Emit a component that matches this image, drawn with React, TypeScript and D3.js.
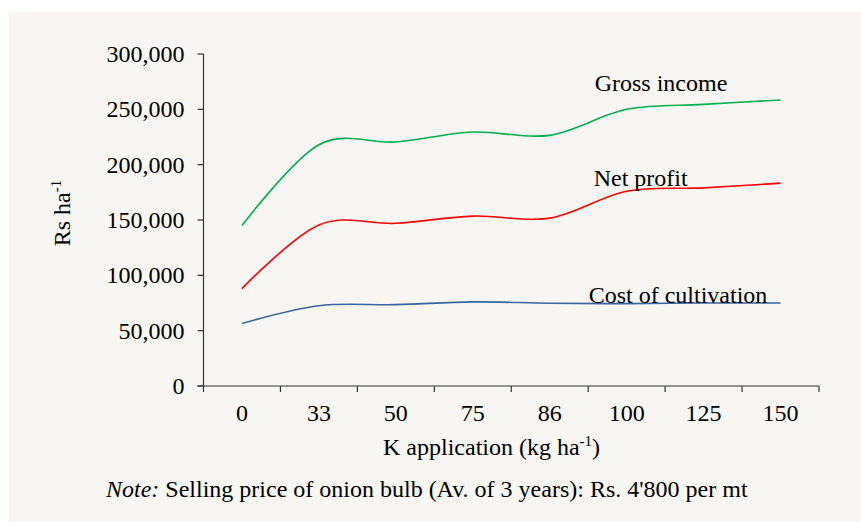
import React from "react";
import * as d3 from "d3";

// K application levels (kg ha-1)
const categories = ["0", "33", "50", "75", "86", "100", "125", "150"];

// Rs ha-1
const grossIncome = [145000, 218000, 220500, 229500, 226500, 250000, 254500, 258500];
const netProfit = [88000, 145500, 147000, 153500, 151700, 176000, 179000, 183300];
const costOfCultivation = [56500, 72500, 73500, 76000, 74800, 74400, 75000, 75000];

const yTicks = [0, 50000, 100000, 150000, 200000, 250000, 300000];

const seriesList = [
  { name: "Gross income", values: grossIncome, color: "#00b050", labelAt: 5, dx: -32, dy: -12 },
  { name: "Net profit", values: netProfit, color: "#ff0000", labelAt: 5, dx: -33, dy: 1 },
  { name: "Cost of cultivation", values: costOfCultivation, color: "#3a66a0", labelAt: 5, dx: -38, dy: 5 },
];

const W = 861;
const H = 522;
const FONT = "Liberation Serif";

const App = () => {
  const margin = { left: 203.5, right: 819, top: 54, bottom: 386 };

  // band scale for the category axis, points sit at band centres
  const x = d3
    .scaleBand()
    .domain(categories)
    .range([margin.left, margin.right])
    .paddingInner(0)
    .paddingOuter(0);

  const y = d3.scaleLinear().domain([0, 300000]).range([margin.bottom, margin.top]);

  const cx = (i) => (x(categories[i]) as number) + x.bandwidth() / 2;

  const line = d3
    .line<number>()
    .x((d, i) => cx(i))
    .y((d) => y(d))
    .curve(d3.curveCardinal.tension(0));

  const fmt = d3.format(",");

  // tick boundaries between categories (including both ends)
  const boundaries = categories.map((c) => x(c) as number).concat([margin.right]);

  return (
    <svg
      width={W}
      height={H}
      style={{ position: "absolute", left: 0, top: 0, fontFamily: FONT }}
    >
      <rect x={9} y={12} width={W - 9} height={H - 12} fill="#f8f6f2" />

      {/* y axis */}
      <line x1={margin.left} x2={margin.left} y1={margin.top} y2={margin.bottom} stroke="#333" strokeWidth={1.2} />
      {yTicks.map((t) => (
        <g key={t}>
          <line x1={margin.left - 6} x2={margin.left} y1={y(t)} y2={y(t)} stroke="#333" strokeWidth={1.2} />
          <text x={margin.left - 19} y={y(t)} dy="0.34em" textAnchor="end" fontSize={24} fill="#000">
            {fmt(t)}
          </text>
        </g>
      ))}

      {/* x axis */}
      <line x1={margin.left - 6} x2={margin.right} y1={margin.bottom} y2={margin.bottom} stroke="#333" strokeWidth={1.2} />
      {boundaries.map((b, i) => (
        <line key={i} x1={b} x2={b} y1={margin.bottom} y2={margin.bottom + 6} stroke="#333" strokeWidth={1.2} />
      ))}
      {categories.map((c, i) => (
        <text key={c} x={cx(i)} y={421} textAnchor="middle" fontSize={24} fill="#000">
          {c}
        </text>
      ))}

      {/* series */}
      {seriesList.map((s) => (
        <path key={s.name} d={line(s.values) as string} fill="none" stroke={s.color} strokeWidth={1.6} />
      ))}
      {seriesList.map((s) => (
        <text
          key={s.name + "-lbl"}
          x={cx(s.labelAt) + s.dx}
          y={y(s.values[s.labelAt]) + s.dy - 6}
          fontSize={24}
          fill="#000"
        >
          {s.name}
        </text>
      ))}

      {/* axis titles */}
      <text transform="translate(70,213) rotate(-90)" textAnchor="middle" fontSize={24} fill="#000">
        Rs ha<tspan dy="-9" fontSize={15}>-1</tspan>
      </text>
      <text x={383} y={455} fontSize={24} fill="#000">
        K application (kg ha<tspan dy="-9" fontSize={15}>-1</tspan>
        <tspan dy="9">)</tspan>
      </text>

      {/* note */}
      <text x={106} y={497} fontSize={24} fill="#000">
        <tspan fontStyle="italic">Note:</tspan> Selling price of onion bulb (Av. of 3 years): Rs. 4'800 per mt
      </text>
    </svg>
  );
};

export default App;
